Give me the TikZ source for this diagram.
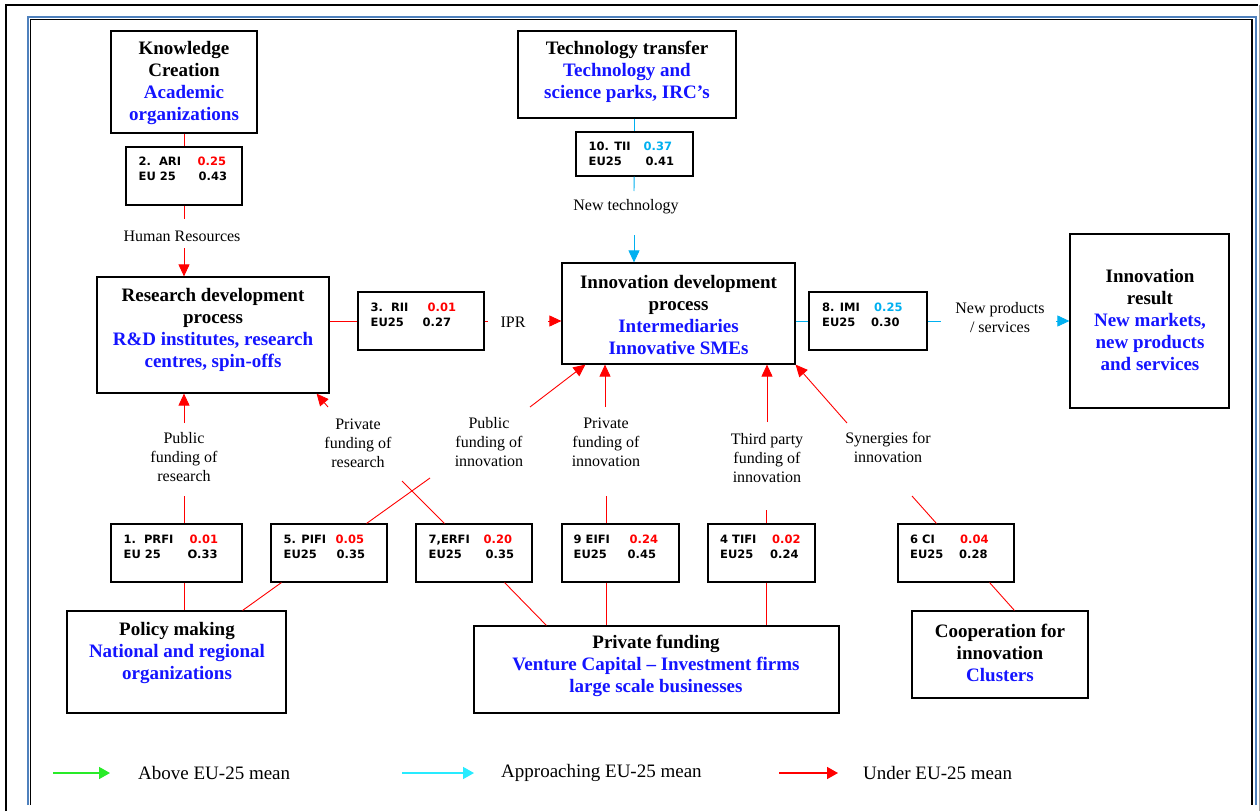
\documentclass[tikz,border=0pt]{standalone}
\usepackage{fontspec}
\setmainfont{Liberation Serif}
\newfontfamily\idxfont{DejaVu Sans}
\usetikzlibrary{arrows.meta}

\definecolor{under}{RGB}{255,0,0}
\definecolor{approach}{RGB}{0,176,240}
\definecolor{orgblue}{RGB}{20,20,255}
\definecolor{frameblue}{RGB}{79,129,189}
\definecolor{leggreen}{RGB}{40,235,40}
\definecolor{legcyan}{RGB}{40,235,255}

% two-line indicator text: label / value, EU25 / value
\newcommand\idxlines[6]{%
  \begin{tabular}[t]{@{}l@{}}%
    \makebox[#1][l]{#3}#4\\
    \makebox[#2][l]{#5}#6%
  \end{tabular}}

\tikzset{
  box/.style={draw=black, line width=1.2pt, fill=white, inner sep=0pt},
  idxbox/.style={draw=black, line width=1.1pt, fill=white, inner sep=0pt, minimum height=58pt},
  title/.style={font=\fontsize{19}{22}\selectfont\bfseries, align=center, inner sep=0pt},
  idxtxt/.style={font=\idxfont\bfseries\fontsize{11.5}{15}\selectfont, inner sep=0pt, anchor=base west},
  lbl/.style={font=\fontsize{16}{19}\selectfont, align=center, inner sep=0pt},
  legtxt/.style={font=\fontsize{19}{22}\selectfont, inner sep=0pt, anchor=west},
  link/.style={draw=under, line width=0.9pt},
  linkarrow/.style={link, -{Triangle[length=12pt,width=11pt]}},
  tlink/.style={draw=approach, line width=0.9pt},
  tlinkarrow/.style={tlink, -{Triangle[length=12pt,width=11pt]}},
  legarrow/.style={line width=1.6pt, -{Triangle[length=11pt,width=12pt]}},
}

\begin{document}
\begin{tikzpicture}[x=1pt, y=-1pt]
\useasboundingbox (0,0) rectangle (1260,811);
\fill[white] (0,0) rectangle (1260,811);

% page frames
\draw[black, line width=1.8pt] (6,811) -- (6,5) -- (1258,5);
\draw[black!35, line width=1pt] (1259,5) -- (1259,811);
\draw[frameblue, line width=2pt] (28,805) -- (28,17) -- (1255.5,17) -- (1255.5,805);
\draw[black, line width=1.6pt] (30.5,805) -- (30.5,19.5) -- (1252,19.5) -- (1252,805);

% actor boxes
\node[box, minimum width=146pt, minimum height=102pt] (kc) at (184,82) {};
\node[title] (kc-t) at (184,83) {Knowledge\\Creation\\\textcolor{orgblue}{Academic}\\\textcolor{orgblue}{organizations}};

\node[box, minimum width=218pt, minimum height=87pt] (tt) at (627,74.5) {};
\node[title] (tt-t) at (627,72) {Technology transfer\\\textcolor{orgblue}{Technology and}\\\textcolor{orgblue}{science parks, IRC’s}};

\node[box, minimum width=232pt, minimum height=116pt] (rd) at (213,335) {};
\node[title] (rd-t) at (213,330) {Research development\\process\\\textcolor{orgblue}{R\&D institutes, research}\\\textcolor{orgblue}{centres, spin-offs}};

\node[box, minimum width=233pt, minimum height=101pt] (id) at (678.5,313.5) {};
\node[title] (id-t) at (678.5,315) {Innovation development\\process\\\textcolor{orgblue}{Intermediaries}\\\textcolor{orgblue}{Innovative SMEs}};

\node[box, minimum width=159pt, minimum height=174pt] (ir) at (1149.5,321) {};
\node[title] (ir-t) at (1150,319.5) {Innovation\\result\\\textcolor{orgblue}{New markets,}\\\textcolor{orgblue}{new products}\\\textcolor{orgblue}{and services}};

\node[box, minimum width=219pt, minimum height=102pt] (pm) at (176.5,662) {};
\node[title] (pm-t) at (177,652.5) {Policy making\\\textcolor{orgblue}{National and regional}\\\textcolor{orgblue}{organizations}};

\node[box, minimum width=365pt, minimum height=87pt] (pf) at (656.5,669.5) {};
\node[title] (pf-t) at (656,666) {Private funding\\\textcolor{orgblue}{Venture Capital – Investment firms}\\\textcolor{orgblue}{large scale businesses}};

\node[box, minimum width=176pt, minimum height=87pt] (co) at (1000,654.5) {};
\node[title] (co-t) at (1000,652.5) {Cooperation for\\innovation\\\textcolor{orgblue}{Clusters}};

% indicator boxes
\node[idxbox, minimum width=116pt] (ari) at (184,176) {};
\node[idxtxt] (ari-t) at ([xshift=13pt,yshift=-19.5pt]ari.north west)
  {\idxlines{59pt}{60pt}{2.\ \ ARI}{\textcolor{under}{0.25}}{EU 25}{0.43}};

\node[idxbox, minimum width=117pt, minimum height=44pt] (tii) at (634.5,154) {};
\node[idxtxt] (tii-t) at ([xshift=13pt,yshift=-19.5pt]tii.north west)
  {\idxlines{55pt}{57pt}{10. TII}{\textcolor{approach}{0.37}}{EU25}{0.41}};

\node[idxbox, minimum width=126pt] (rii) at (421,321) {};
\node[idxtxt] (rii-t) at ([xshift=13pt,yshift=-20pt]rii.north west)
  {\idxlines{57pt}{52pt}{3.\ \ RII}{\textcolor{under}{0.01}}{EU25}{0.27}};

\node[idxbox, minimum width=118pt] (imi) at (868,321) {};
\node[idxtxt] (imi-t) at ([xshift=13.5pt,yshift=-20pt]imi.north west)
  {\idxlines{52pt}{49pt}{8. IMI}{\textcolor{approach}{0.25}}{EU25}{0.30}};

\node[idxbox, minimum width=131pt] (prfi) at (176.5,553) {};
\node[idxtxt] (prfi-t) at ([xshift=13pt,yshift=-20pt]prfi.north west)
  {\idxlines{66pt}{64pt}{1.\ \ PRFI}{\textcolor{under}{0.01}}{EU 25}{O.33}};

\node[idxbox, minimum width=116pt] (pifi) at (329,553) {};
\node[idxtxt] (pifi-t) at ([xshift=13pt,yshift=-20pt]pifi.north west)
  {\idxlines{52pt}{53pt}{5. PIFI}{\textcolor{under}{0.05}}{EU25}{0.35}};

\node[idxbox, minimum width=116pt] (erfi) at (474,553) {};
\node[idxtxt] (erfi-t) at ([xshift=13pt,yshift=-20pt]erfi.north west)
  {\idxlines{55pt}{57pt}{7,ERFI}{\textcolor{under}{0.20}}{EU25}{0.35}};

\node[idxbox, minimum width=117pt] (eifi) at (620.5,553) {};
\node[idxtxt] (eifi-t) at ([xshift=12pt,yshift=-20pt]eifi.north west)
  {\idxlines{56pt}{54pt}{9 EIFI}{\textcolor{under}{0.24}}{EU25}{0.45}};

\node[idxbox, minimum width=107pt] (tifi) at (761.5,553) {};
\node[idxtxt] (tifi-t) at ([xshift=12.5pt,yshift=-20pt]tifi.north west)
  {\idxlines{52pt}{50pt}{4 TIFI}{\textcolor{under}{0.02}}{EU25}{0.24}};

\node[idxbox, minimum width=116pt] (ci) at (956,553) {};
\node[idxtxt] (ci-t) at ([xshift=12.5pt,yshift=-20pt]ci.north west)
  {\idxlines{50pt}{49pt}{6 CI}{\textcolor{under}{0.04}}{EU25}{0.28}};

% flow labels
\node[lbl] (hr) at (182,236) {Human Resources};
\node[lbl] (nt) at (626,207) {New technology};
\node[lbl] (ipr) at (513,322) {IPR};
\node[lbl] (pfr) at (184,457) {Public\\funding of\\research};
\node[lbl] (prr) at (358,443) {Private\\funding of\\research};
\node[lbl] (pfi) at (489,442) {Public\\funding of\\innovation};
\node[lbl] (pvi) at (606,442) {Private\\funding of\\innovation};
\node[lbl] (tpi) at (767,458) {Third party\\funding of\\innovation};
\node[lbl] (syn) at (888,447.5) {Synergies for\\innovation};
\node[lbl] (np) at (1000,318) {New products\\/ services};

% ends of the connector segments beside the labels
\coordinate (hr-a) at (184,219);  \coordinate (hr-b) at (184,248);
\coordinate (pfr-a) at (184,496); \coordinate (pfr-b) at (184,423);
\coordinate (ipr-a) at (488,321); \coordinate (ipr-b) at (548,321);
\coordinate (pfi-a) at (430,478); \coordinate (pfi-b) at (530,407);
\coordinate (prr-a) at (402,481); \coordinate (prr-b) at (328,407);
\coordinate (pvi-a) at (606,496); \coordinate (pvi-b) at (605,407);
\coordinate (tpi-a) at (766,510); \coordinate (tpi-b) at (767,422);
\coordinate (syn-a) at (912,496); \coordinate (syn-b) at (847,423);
\coordinate (nt-a) at (634,191);  \coordinate (nt-b) at (634,235);
\coordinate (np-a) at (941,321);  \coordinate (np-b) at (1056,321);

% flows below the EU-25 mean
\draw[link] (kc) -- (ari);
\draw[link] (ari) -- (hr-a);
\draw[linkarrow] (hr-b) -- (hr-b |- rd.north);
\draw[link] (rii.west -| rd.east) -- (rii.west);
\draw[link] (rii) -- (ipr-a);
\draw[linkarrow] (ipr-b) -- (ipr-b -| id.west);

\draw[link] (prfi.north -| pfr-a) -- (pfr-a);
\draw[linkarrow] (pfr-b) -- (pfr-b |- rd.south);
\draw[link] (prfi.south -| pfr-a) -- (pfr-a |- pm.north);

\draw[link] ([xshift=-21pt]pifi.north east) -- (pfi-a);
\draw[linkarrow] (pfi-b) -- ([xshift=24pt]id.south west);
\draw[link] ([xshift=11pt]pifi.south west) -- ([xshift=-44pt]pm.north east);

\draw[link] ([xshift=29pt]erfi.north west) -- (prr-a);
\draw[linkarrow] (prr-b) -- ([xshift=-13pt]rd.south east);
\draw[link] ([xshift=-28pt]erfi.south east) -- ([xshift=73pt]pf.north west);

\draw[link] (eifi.north -| pvi-a) -- (pvi-a);
\draw[linkarrow] (pvi-b) -- (pvi-b |- id.south);
\draw[link] (eifi.south -| pvi-a) -- (pvi-a |- pf.north);

\draw[link] (tifi.north -| tpi-a) -- (tpi-a);
\draw[linkarrow] (tpi-b) -- (tpi-b |- id.south);
\draw[link] (tifi.south -| tpi-a) -- (tpi-a |- pf.north);

\draw[link] ([xshift=39pt]ci.north west) -- (syn-a);
\draw[linkarrow] (syn-b) -- (id.south east);
\draw[link] ([xshift=-25pt]ci.south east) -- ([xshift=103pt]co.north west);

% flows approaching the EU-25 mean
\draw[tlink] (tii.north |- tt.south) -- (tii.north);
\draw[tlink] (tii) -- (nt-a);
\draw[tlinkarrow] (nt-b) -- (nt-b |- id.north);
\draw[tlink] (imi.west -| id.east) -- (imi.west);
\draw[tlink] (imi) -- (np-a);
\draw[tlinkarrow] (np-b) -- (ir);

% legend
\coordinate (lg1a) at (53,773);  \coordinate (lg1b) at (110,773);
\coordinate (lg2a) at (402,773); \coordinate (lg2b) at (474,773);
\coordinate (lg3a) at (779,773); \coordinate (lg3b) at (838,773);
\draw[legarrow, leggreen] (lg1a) -- (lg1b);
\draw[legarrow, legcyan] (lg2a) -- (lg2b);
\draw[legarrow, under] (lg3a) -- (lg3b);
\node[legtxt] (lg1) at (138,773) {Above EU-25 mean};
\node[legtxt] (lg2) at (501,773) {Approaching EU-25 mean};
\node[legtxt] (lg3) at (863,773) {Under EU-25 mean};
\end{tikzpicture}
\end{document}
